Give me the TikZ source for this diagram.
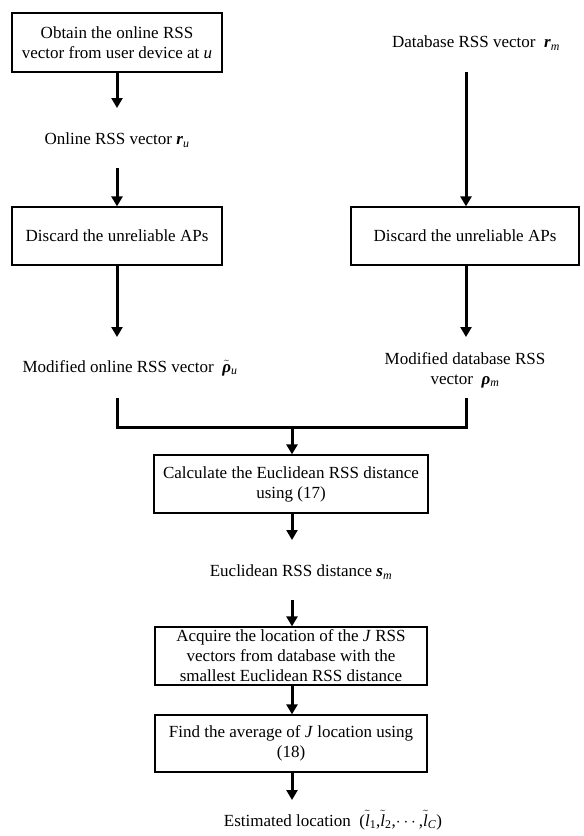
\documentclass[tikz,border=0pt]{standalone}
\usepackage{amsmath}
\usepackage{fontspec}
\setmainfont{Liberation Serif}
\usetikzlibrary{arrows.meta}

% bold italic vector with an italic subscript, set in the text font
\newcommand{\vecsym}[2]{\textbf{\textit{#1}}\textsubscript{\textit{#2}}}
\newcommand{\itsym}[1]{\textit{#1}}
% a text glyph with a tilde accent on top
\newcommand{\tildesym}[1]{$\tilde{\hbox{#1}}$}

\begin{document}
\begin{tikzpicture}[x=1pt,y=-1pt,
  every node/.style={font=\fontsize{17}{20}\selectfont, inner sep=0pt, align=center},
  stepbox/.style={draw, line width=1.2pt, minimum height=58pt},
  flow/.style={line width=3pt, -{Triangle[width=11pt,length=10pt]}},
  joint/.style={line width=3pt}]

\useasboundingbox (0,0) rectangle (584,836);

% left branch: online measurement
\node[stepbox, minimum width=210pt, minimum height=59pt] (obtain) at (117,42.5)
  {Obtain the online RSS\\vector from user device at \itsym{u}};
\node (ru) at (117,140) {Online RSS vector \vecsym{r}{u}};
\node[stepbox, minimum width=210pt] (discL) at (117,236) {Discard the unreliable APs};
\node (rhou) at (130,368) {Modified online RSS vector \ \tildesym{\textbf{\textit{ρ}}}\textsubscript{\textit{u}}};

% right branch: database
\node (rm) at (476,43) {Database RSS vector \ \vecsym{r}{m}};
\node[stepbox, minimum width=228pt] (discR) at (465,236) {Discard the unreliable APs};
\node (rhom) at (465,370) {Modified database RSS\\vector \ \vecsym{ρ}{m}};

% common part
\node[stepbox, minimum width=274pt] (dist) at (291,484)
  {Calculate the Euclidean RSS distance\\using (17)};
\node (sm) at (301,572) {Euclidean RSS distance \vecsym{s}{m}};
\node[stepbox, minimum width=272pt] (acq) at (291,656)
  {Acquire the location of the \itsym{J} RSS\\vectors from database with the\\smallest Euclidean RSS distance};
\node[stepbox, minimum width=272pt, minimum height=57pt] (avg) at (291,743.5)
  {Find the average of \itsym{J} location using\\(18)};
\node (est) at (333,820) {Estimated location \
  (\tildesym{\itsym{l}}\textsubscript{1},\tildesym{\itsym{l}}\textsubscript{2},$\cdots$,\tildesym{\itsym{l}}\textsubscript{\itsym{C}})};

% connector end points
\coordinate (ruIn) at (117,108);
\coordinate (ruOut) at (117,168);
\coordinate (rhouIn) at (117,337);
\coordinate (mergeL) at (117,398);
\coordinate (rmOut) at (466,72);
\coordinate (rhomIn) at (466,337);
\coordinate (mergeR) at (466,398);
\coordinate (merge) at (292,427);
\coordinate (smIn) at (292,540);
\coordinate (smOut) at (292,600);
\coordinate (estIn) at (292,800);

% connectors
\draw[flow] (obtain.south) -- (ruIn);
\draw[flow] (ruOut) -- (discL.north);
\draw[flow] (discL.south) -- (rhouIn);
\draw[flow] (rmOut) -- (rmOut |- discR.north);
\draw[flow] (discR.south -| rhomIn) -- (rhomIn);
\draw[joint] (mergeL) |- (merge) -| (mergeR);
\draw[flow] (merge) -- (merge |- dist.north);
\draw[flow] (dist.south -| smIn) -- (smIn);
\draw[flow] (smOut) -- (smOut |- acq.north);
\draw[flow] (acq.south -| smOut) -- (smOut |- avg.north);
\draw[flow] (avg.south -| estIn) -- (estIn);
\end{tikzpicture}
\end{document}
